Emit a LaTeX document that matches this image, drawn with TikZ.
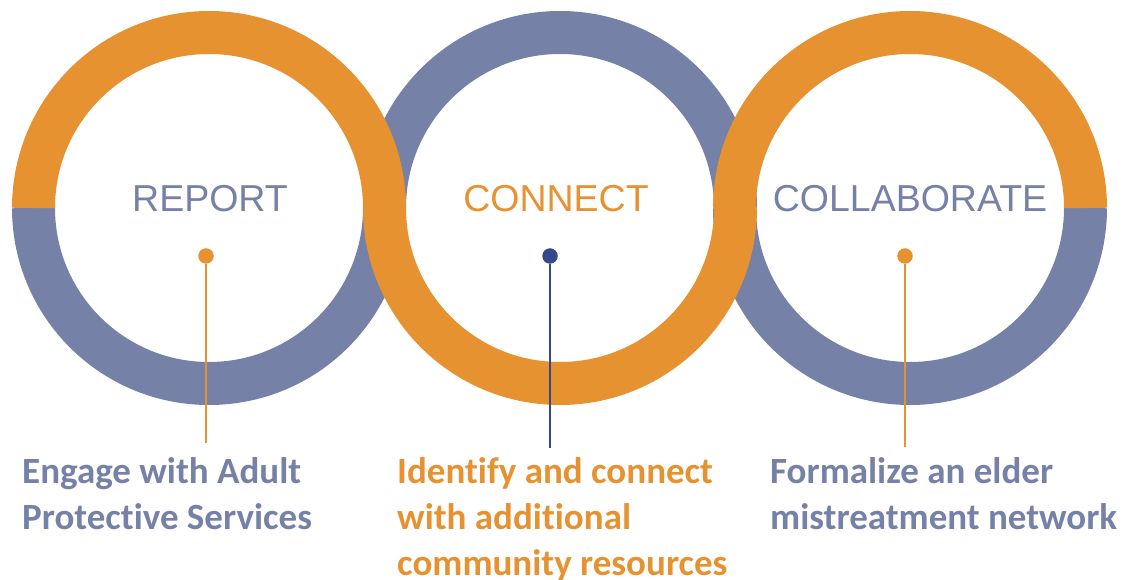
\documentclass[tikz,border=0pt]{standalone}
\usepackage{fontspec}
\setmainfont{Liberation Sans}
\newfontfamily\notefont[Ligatures=NoCommon]{Carlito}
\definecolor{ringorange}{RGB}{230,146,49}
\definecolor{ringblue}{RGB}{118,129,167}
\definecolor{pinnavy}{RGB}{52,72,138}

\begin{document}
\begin{tikzpicture}[x=1pt, y=1pt,
    ring/.style={line width=43pt},
    head/.style={font=\fontsize{37.5}{45}\selectfont, inner sep=0pt, anchor=base},
    note/.style={font=\notefont\bfseries\fontsize{37}{46}\selectfont, align=left, inner sep=0pt, anchor=base west},
    pin/.style={circle, fill, inner sep=0pt, minimum size=15.5pt},
    stem/.style={line width=1.4pt}
]
\useasboundingbox (0,0) rectangle (1125,579);

% ring centres
\coordinate (c1) at (209,371);
\coordinate (c2) at (560,371);
\coordinate (c3) at (910,371);

% blue halves first, the orange halves lie on top of them
\draw[ring, ringblue] ([shift={(175.5,0)}]c1) arc (0:-180:175.5);
\draw[ring, ringblue] ([shift={(175.5,0)}]c2) arc (0:180:175.5);
\draw[ring, ringblue] ([shift={(175.5,0)}]c3) arc (0:-180:175.5);
\draw[ring, ringorange] ([shift={(175.5,0)}]c1) arc (0:180:175.5);
\draw[ring, ringorange] ([shift={(175.5,0)}]c2) arc (0:-180:175.5);
\draw[ring, ringorange] ([shift={(175.5,0)}]c3) arc (0:180:175.5);

\node[head, ringblue] (t1) at (210,367) {REPORT};
\node[head, ringorange] (t2) at (556,367) {CONNECT};
\node[head, ringblue] (t3) at (910,367) {COLLABORATE};

% pins and their stems
\node[pin, ringorange] (p1) at (206,323) {};
\node[pin, pinnavy] (p2) at (550,323) {};
\node[pin, ringorange] (p3) at (905,323) {};
\coordinate (e1) at (206,136);
\coordinate (e2) at (550,131);
\coordinate (e3) at (905,132);
\draw[stem, ringorange] (p1) -- (e1);
\draw[stem, pinnavy] (p2) -- (e2);
\draw[stem, ringorange] (p3) -- (e3);

% base of a note is the baseline of its last line
\node[note, ringblue] (n1) at (22,50) {Engage with Adult\\Protective Services};
\node[note, ringorange] (n2) at (397,4) {Identify and connect\\with additional\\community resources};
\node[note, ringblue] (n3) at (770,50) {Formalize an elder\\mistreatment network};

\end{tikzpicture}
\end{document}
